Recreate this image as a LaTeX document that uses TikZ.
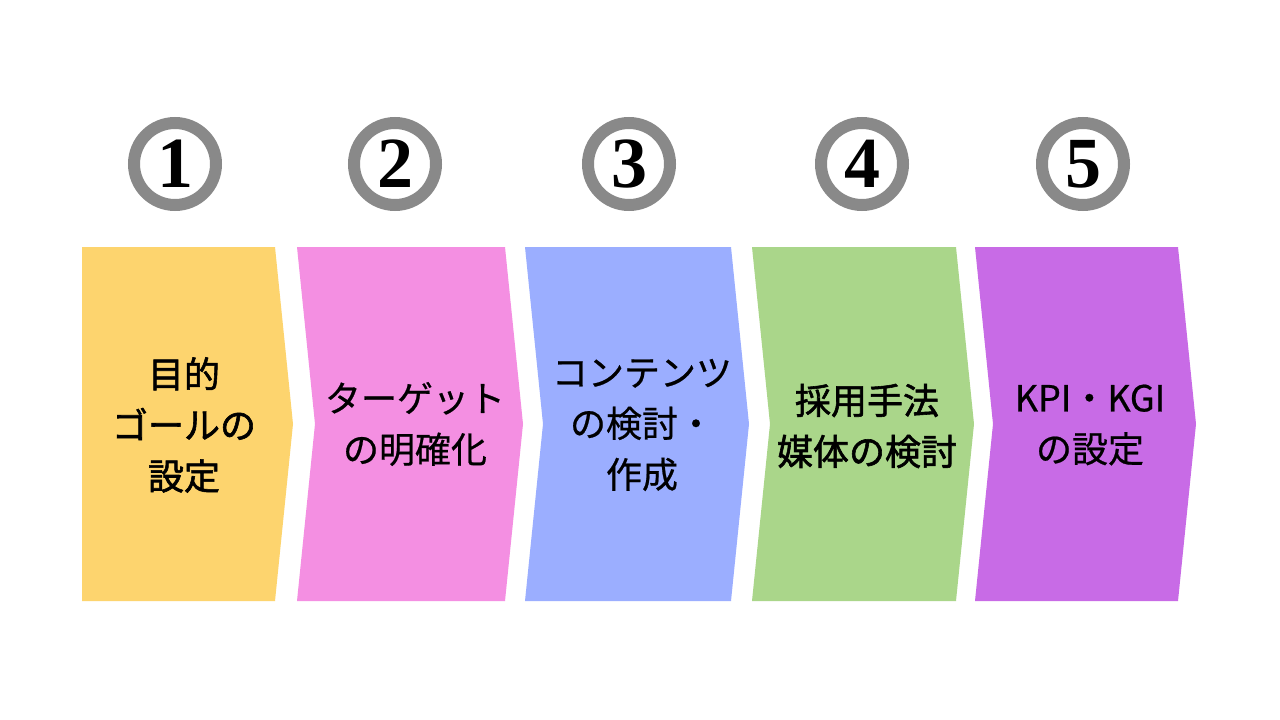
\documentclass[tikz,border=0pt]{standalone}
\usepackage{fontspec}
\newfontfamily\jp{Noto Sans CJK JP}[FakeBold=0.6]
\newfontfamily\jpmed{Noto Sans CJK JP}[FakeBold=1.6]
\newfontfamily\digitfont{Liberation Serif}
\definecolor{cyellow}{RGB}{253,212,110}
\definecolor{cpink}{RGB}{244,143,226}
\definecolor{cblue}{RGB}{155,174,255}
\definecolor{cgreen}{RGB}{170,214,138}
\definecolor{cpurple}{RGB}{200,107,230}
\definecolor{cring}{RGB}{137,137,137}
\tikzset{
  ring/.style={circle, draw=cring, line width=12pt, fill=white, minimum size=82pt, inner sep=0pt,
    font=\digitfont\bfseries\fontsize{72}{72}\selectfont, text=black},
  label/.style={align=center, text=black, font=\jp\fontsize{36}{51}\selectfont, inner sep=0pt},
  labelm/.style={label, font=\jpmed\fontsize{36}{51}\selectfont}
}
\begin{document}
\begin{tikzpicture}[x=1pt,y=-1pt]
\path[use as bounding box, fill=white] (0,0) rectangle (1280,720);
% steps
\fill[cyellow] (82,247) -- (275,247) -- (293,424) -- (275,601) -- (82,601) -- cycle;
\fill[cpink] (297,247) -- (505,247) -- (523,424) -- (505,601) -- (297,601) -- (315,424) -- cycle;
\fill[cblue] (525,247) -- (731,247) -- (749,424) -- (731,601) -- (525,601) -- (543,424) -- cycle;
\fill[cgreen] (752,247) -- (956,247) -- (974,424) -- (956,601) -- (752,601) -- (770,424) -- cycle;
\fill[cpurple] (975,247) -- (1178,247) -- (1196,424) -- (1178,601) -- (975,601) -- (993,424) -- cycle;
% texts
\node[labelm] (t1) at (184,425) {目的\\ゴールの\\設定};
\node[label] (t2) at (415,424) {ターゲット\\の明確化};
\node[label] (t3) at (642,425) {コンテンツ\\の検討・\\作成};
\node[labelm] (t4) at (867,426) {採用手法\\媒体の検討};
\node[label] (t5) at (1090,425) {KPI・KGI\\の設定};
% numbers
\node[ring] (n1) at (175,164) {1};
\node[ring] (n2) at (395,164) {2};
\node[ring] (n3) at (629,164) {3};
\node[ring] (n4) at (862,164) {4};
\node[ring] (n5) at (1083,164) {5};
\end{tikzpicture}
\end{document}
